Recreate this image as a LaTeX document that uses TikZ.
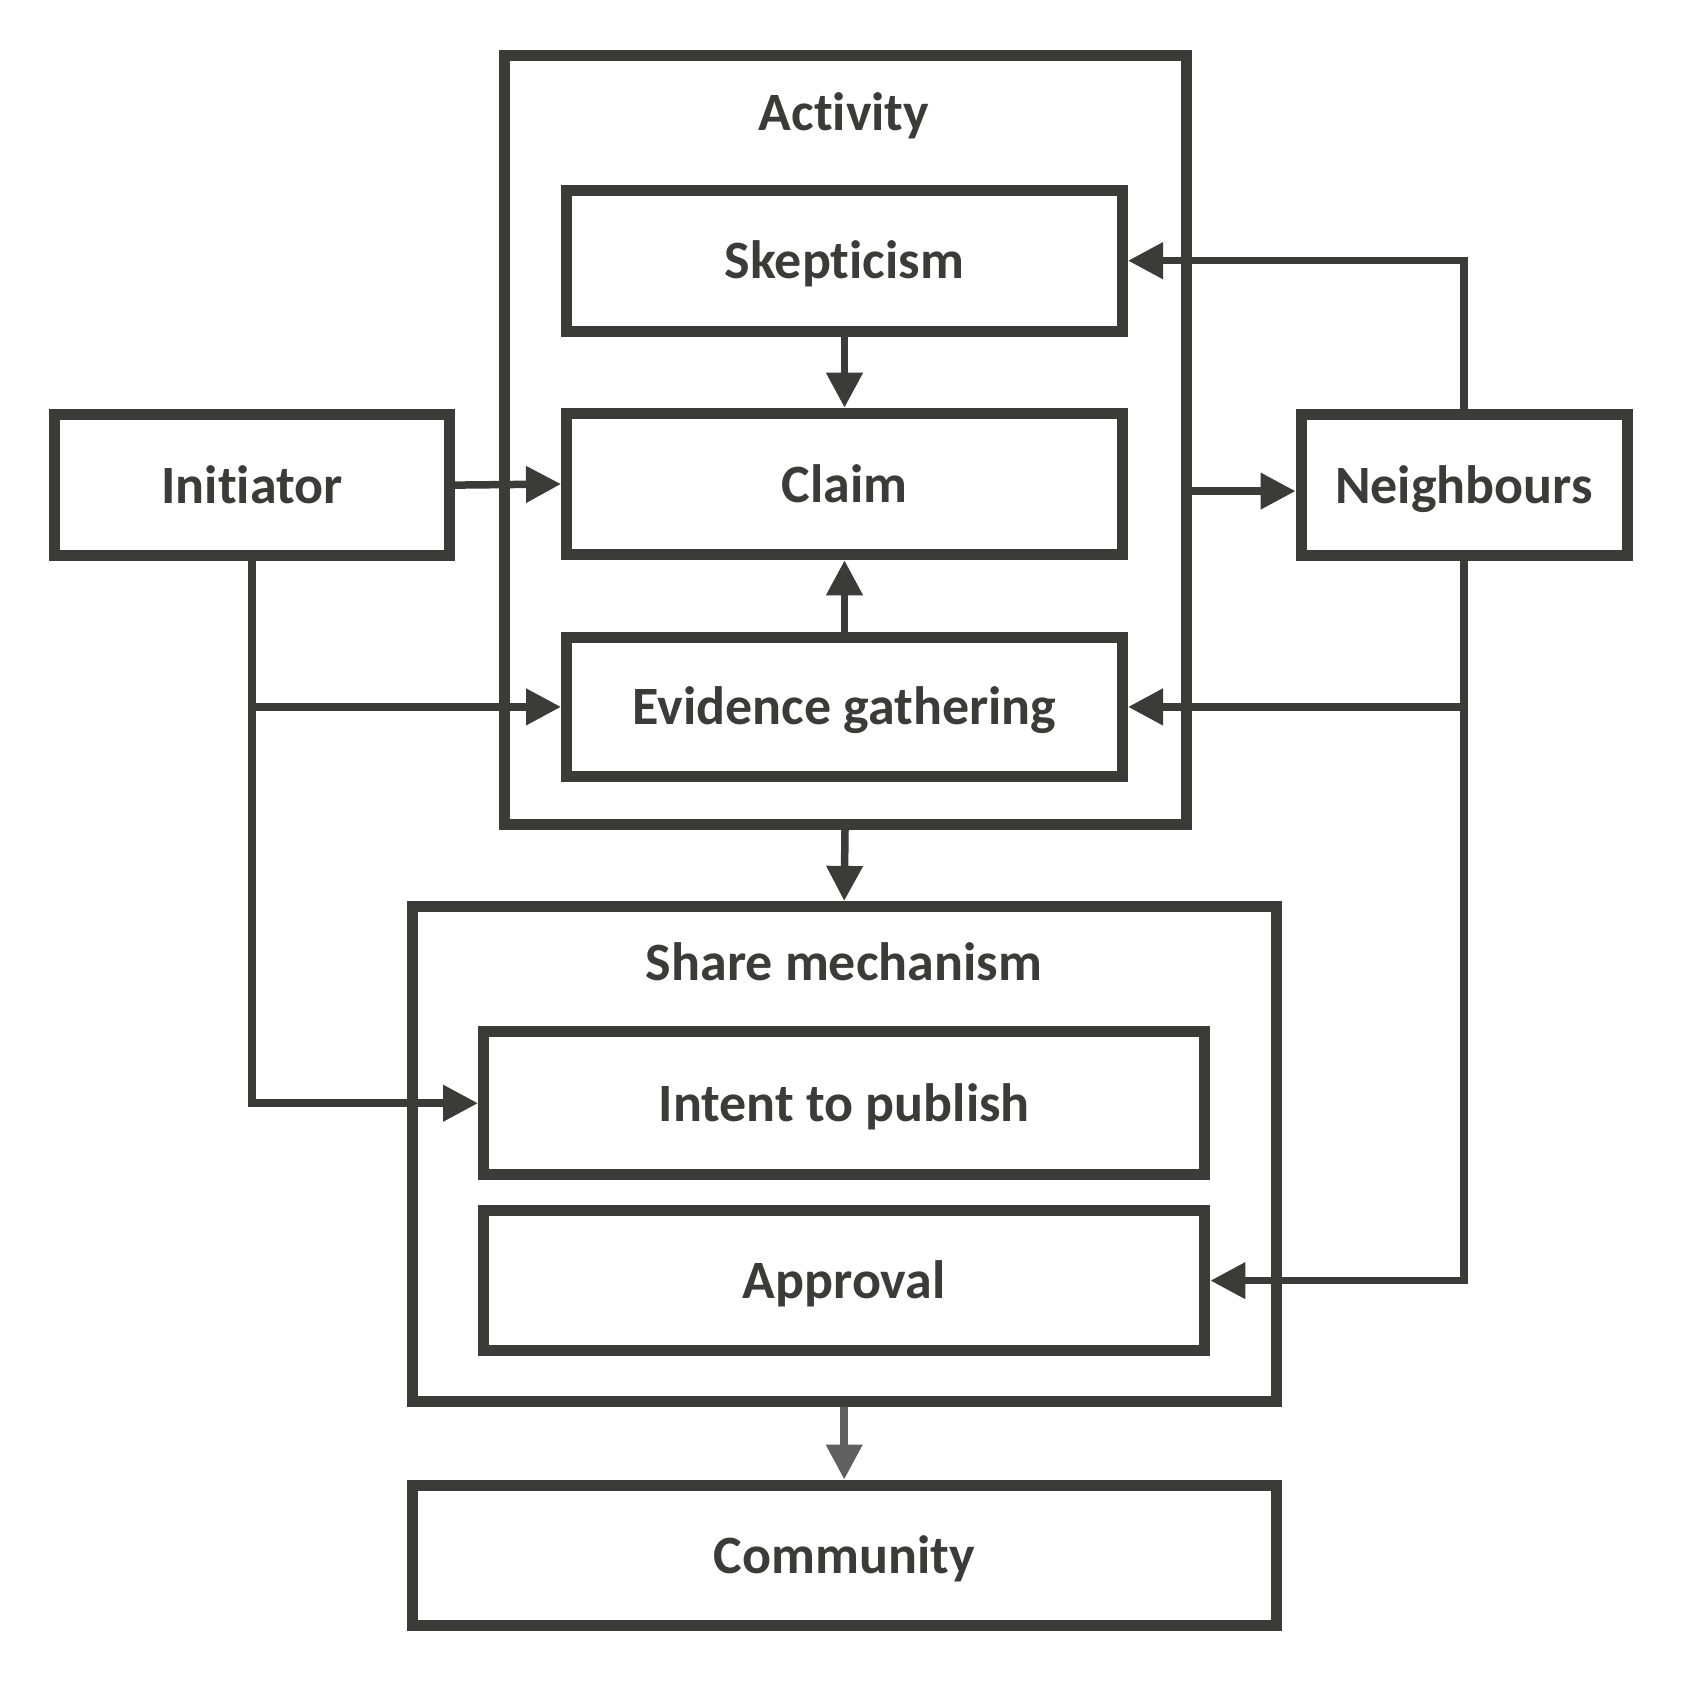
\documentclass[tikz,border=0pt]{standalone}
\usepackage{fontspec}
\setmainfont{Carlito}[Ligatures=NoCommon]
\usetikzlibrary{arrows.meta,calc}
\definecolor{ink}{RGB}{59,59,55}
\definecolor{greyarrow}{RGB}{96,96,96}
\begin{document}
\begin{tikzpicture}[x=0.5pt,y=-0.5pt,
  lbl/.style={inner sep=0pt, text=ink, font=\fontsize{27}{33}\selectfont\bfseries, text height=18pt, text depth=0pt},
  box/.style={lbl, draw=ink, line width=5.5pt, rectangle},
  conn/.style={draw=ink, line width=3.75pt, -{Triangle[length=17.5pt,width=17.5pt]}},
  plain/.style={draw=ink, line width=3.75pt}]
\useasboundingbox (0,0) rectangle (1696,1692);
% containers
\node[box, minimum width=341pt, minimum height=384.6pt] (act) at (845,439.6) {};
\node[lbl] (acttitle) at (844,112.5) {Activity};
\node[box, minimum width=432pt, minimum height=247.7pt] (share) at (844.2,1154.1) {};
\node[lbl] (sharetitle) at (844,962.6) {Share mechanism};
% boxes
\node[box, minimum width=278pt, minimum height=70.3pt] (skep) at (844.5,260.7) {Skepticism};
\node[box, minimum width=278pt, minimum height=70.8pt] (claim) at (844.5,484) {Claim};
\node[box, minimum width=278pt, minimum height=69.8pt] (evid) at (844.5,706.9) {Evidence gathering};
\node[box, minimum width=197.4pt, minimum height=70.8pt] (init) at (252,485.1) {Initiator};
\node[box, minimum width=163pt, minimum height=70.8pt] (neigh) at (1464,485.1) {Neighbours};
\node[box, minimum width=360.7pt, minimum height=71.4pt] (intent) at (844.2,1103.2) {Intent to publish};
\node[box, minimum width=360.7pt, minimum height=70.3pt] (appr) at (844.2,1280.6) {Approval};
\node[box, minimum width=432pt, minimum height=70.3pt] (comm) at (844.2,1555.3) {Community};
% connectors
\draw[conn] (skep.south) -- (claim.north);
\draw[conn] (evid.north) -- (claim.south);
\draw[conn] (init.east) -- (claim.west);
\draw[conn] (init.south) -- (init.south |- intent.west) -- (intent.west);
\draw[conn] (init.south |- evid.west) -- (evid.west);
\draw[conn] ([yshift=-3pt]act.east |- neigh.west) -- ([yshift=-3pt]neigh.west);
\draw[conn] (neigh.north) -- (neigh.north |- skep.east) -- (skep.east);
\draw[conn] (neigh.south) -- (neigh.south |- appr.east) -- (appr.east);
\draw[conn] (neigh.south |- evid.east) -- (evid.east);
\draw[conn] (act.south) -- (share.north);
\draw[conn, draw=greyarrow] (share.south) -- (comm.north);
\end{tikzpicture}
\end{document}
